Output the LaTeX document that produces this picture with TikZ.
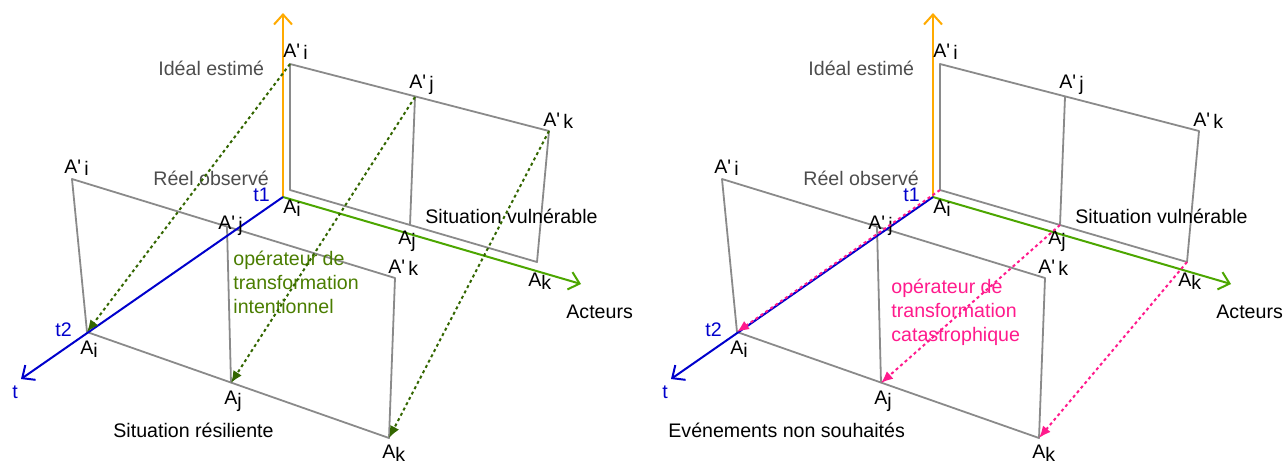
\documentclass[tikz,border=0pt]{standalone}
\usepackage{fontspec}
\setmainfont{Liberation Sans}
\usetikzlibrary{arrows.meta}
\definecolor{planegray}{HTML}{8A8A8A}
\definecolor{axisorange}{HTML}{FFAA00}
\definecolor{axisblue}{HTML}{0000CC}
\definecolor{axisgreen}{HTML}{4CA600}
\definecolor{opgreen}{HTML}{336600}
\definecolor{opgreentext}{HTML}{4A7D00}
\definecolor{oppink}{HTML}{FF1A8C}
\definecolor{labelgray}{HTML}{4D4D4D}
\newcommand{\Aprime}[1]{A\textquotesingle\,\raisebox{-0.25ex}{#1}}
\newcommand{\Asub}[1]{A\raisebox{-0.3ex}{#1}}
\tikzset{
  lbl/.style = {inner sep=0pt, anchor=base west, font=\fontsize{9.8}{12}\selectfont},
  optext/.style = {lbl, align=left},
  plane/.style = {draw=planegray, line width=0.9pt, line join=round},
  axis/.style = {line width=1pt, -{Straight Barb[length=5pt,width=9pt]}},
  oparr/.style = {line width=1pt, dash pattern=on 1.5pt off 1.5pt, -{Latex[length=6pt,width=5pt]}}
}
\begin{document}
\begin{tikzpicture}[x=0.5pt, y=-0.5pt]
\useasboundingbox (0,0) rectangle (1284,462);

% ----- COMMON FRAME (left and right panel) -----
\foreach \p/\dx in {l/0, r/650}{
\begin{scope}[shift={(\dx,0)}]
  % axes
  \coordinate (\p-o) at (283,197);
  \coordinate (\p-up) at (283,13);
  \coordinate (\p-t) at (21,379);
  \coordinate (\p-act) at (581,284);
  % back plane (ideal / vulnerable)
  \coordinate (\p-bi') at (290,64);
  \coordinate (\p-bj') at (415,97);
  \coordinate (\p-bk') at (549,131);
  \coordinate (\p-bi) at (290,190);
  \coordinate (\p-bj) at (410,225);
  \coordinate (\p-bk) at (537,262);
  % front plane (observed)
  \coordinate (\p-fi') at (72,179);
  \coordinate (\p-fj') at (227,227);
  \coordinate (\p-fk') at (395,278);
  \coordinate (\p-fi) at (87,332);
  \coordinate (\p-fj) at (231,383);
  \coordinate (\p-fk) at (389,438);

  \draw[plane] (\p-bi') -- (\p-bk') -- (\p-bk) -- (\p-bi) -- cycle;
  \draw[plane] (\p-bj') -- (\p-bj);
  \draw[plane] (\p-fi') -- (\p-fk') -- (\p-fk) -- (\p-fi) -- cycle;
  \draw[plane] (\p-fj') -- (\p-fj);

  \draw[axis, axisorange] (\p-o) -- (\p-up);
  \draw[axis, axisgreen] (\p-o) -- (\p-act);
  \draw[axis, axisblue] (\p-o) -- (\p-t);

  % labels
  \node[lbl] (\p-lbi') at (283,57) {\Aprime{i}};
  \node[lbl] (\p-lbj') at (409,88) {\Aprime{j}};
  \node[lbl] (\p-lbk') at (543,126) {\Aprime{k}};
  \node[lbl, labelgray] (\p-ideal) at (158,75) {Idéal estimé};
  \node[lbl] (\p-lfi') at (64,173) {\Aprime{i}};
  \node[lbl, labelgray] (\p-reel) at (153,185) {Réel observé};
  \node[lbl, axisblue] (\p-t1) at (253,201) {t1};
  \node[lbl] (\p-lo) at (283,213) {\Asub{i}};
  \node[lbl] (\p-lfj') at (218,229) {\Aprime{j}};
  \node[lbl] (\p-vuln) at (425,223) {Situation vulnérable};
  \node[lbl] (\p-lbj) at (398,244) {\Asub{j}};
  \node[lbl] (\p-lfk') at (388,273) {\Aprime{k}};
  \node[lbl] (\p-lbk) at (528,286) {\Asub{k}};
  \node[lbl] (\p-acteurs) at (566,318) {Acteurs};
  \node[lbl, axisblue] (\p-t2) at (55,336) {t2};
  \node[lbl] (\p-lfi) at (80,354) {\Asub{i}};
  \node[lbl, axisblue] (\p-lt) at (12,398) {t};
  \node[lbl] (\p-lfj) at (224,404) {\Asub{j}};
  \node[lbl] (\p-lfk) at (382,458) {\Asub{k}};
\end{scope}
}

% ----- LEFT: intentional transformation -----
\node[optext, opgreentext] (l-op) at (233,313) {opérateur de\\transformation\\intentionnel};
\node[lbl] (l-res) at (113,437) {Situation résiliente};
\draw[oparr, opgreen] (l-bi') -- (l-fi);
\draw[oparr, opgreen] (l-bj') -- (l-fj);
\draw[oparr, opgreen] (l-bk') -- (l-fk);

% ----- RIGHT: catastrophic transformation -----
\node[optext, oppink] (r-op) at (891,341) {opérateur de\\transformation\\catastrophique};
\node[lbl] (r-ens) at (668,437) {Evénements non souhaités};
\draw[oparr, oppink] (r-bi) -- (r-fi);
\draw[oparr, oppink] (r-bj) -- (r-fj);
\draw[oparr, oppink] (r-bk) -- (r-fk);

\end{tikzpicture}
\end{document}
